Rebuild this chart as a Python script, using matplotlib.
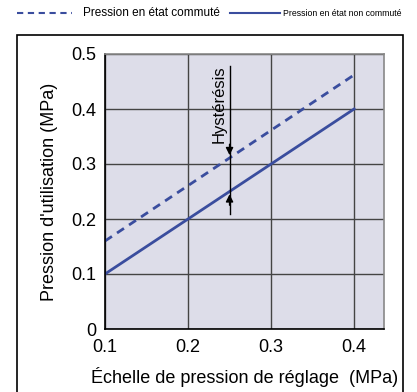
import numpy as np
import matplotlib.pyplot as plt
from matplotlib.patches import Rectangle

plt.rcParams['font.family'] = ['Liberation Sans', 'DejaVu Sans']

# setting pressure (MPa)
x_setting = [0.1, 0.4]
# output pressure, switched / not switched state
y_switched = [0.16, 0.462]
y_unswitched = [0.1, 0.4]
x_ticks = [0.1, 0.2, 0.3, 0.4]
y_ticks = [0, 0.1, 0.2, 0.3, 0.4, 0.5]
y_tick_labels = ['0', '0.1', '0.2', '0.3', '0.4', '0.5']
hyst_x = 0.25

line_col = '#3a4d9e'

fig = plt.figure(figsize=(4.17, 3.92), dpi=100)
ax = fig.add_axes([105 / 417, 1 - 329 / 392, 279 / 417, 275 / 392])
ax.set_facecolor('#dddde9')

ax.plot(x_setting, y_switched, color=line_col, lw=2, ls=(0, (3, 2.2)))
ax.plot(x_setting, y_unswitched, color=line_col, lw=2)

ax.set_xlim(0.1, 0.436)
ax.set_ylim(0, 0.5)
ax.set_xticks(x_ticks)
ax.set_xticklabels([str(v) for v in x_ticks])
ax.set_yticks(y_ticks)
ax.set_yticklabels(y_tick_labels)
ax.tick_params(length=0, labelsize=13)
ax.tick_params(axis='x', pad=7)
ax.tick_params(axis='y', pad=6)
ax.grid(True, color='#444444', lw=1)
ax.set_axisbelow(True)
for s in ['left', 'bottom']:
    ax.spines[s].set_color('black')
    ax.spines[s].set_linewidth(1.2)
for s in ['top', 'right']:
    ax.spines[s].set_color('#888888')
    ax.spines[s].set_linewidth(1.2)

ax.set_xlabel("Échelle de pression de réglage  (MPa)", fontsize=13, labelpad=8)
ax.set_ylabel("Pression d'utilisation (MPa)", fontsize=13, labelpad=10)

# hysteresis marker
y_hi = np.interp(hyst_x, x_setting, y_switched)
y_lo = np.interp(hyst_x, x_setting, y_unswitched)
ax.plot([hyst_x, hyst_x], [y_lo - 0.04, 0.478], color='black', lw=1)
ax.annotate('', xy=(hyst_x, y_hi), xytext=(hyst_x, y_hi + 0.03),
            arrowprops=dict(arrowstyle='-|>', color='black', lw=1, mutation_scale=11))
ax.annotate('', xy=(hyst_x, y_lo), xytext=(hyst_x, y_lo - 0.03),
            arrowprops=dict(arrowstyle='-|>', color='black', lw=1, mutation_scale=11))
ax.text(hyst_x - 0.003, 0.48, 'Hystérésis', rotation=90, ha='right', va='top', fontsize=12)

# outer frame
fig.patches.append(Rectangle((17 / 417, -0.05), 386 / 417, 1.05 - 35 / 392,
                             transform=fig.transFigure, fill=False,
                             edgecolor='black', lw=1.2, clip_on=False))

# legend along the top
fig.add_artist(plt.Line2D([17 / 417, 72 / 417], [1 - 13 / 392] * 2,
                          transform=fig.transFigure, color=line_col, lw=1.5, ls=(0, (3, 2.2))))
fig.text(83 / 417, 1 - 13 / 392, 'Pression en état commuté', fontsize=8.5, va='center', ha='left')
fig.add_artist(plt.Line2D([230 / 417, 280 / 417], [1 - 13 / 392] * 2,
                          transform=fig.transFigure, color=line_col, lw=1.5))
fig.text(283 / 417, 1 - 13 / 392, 'Pression en état non commuté', fontsize=6.3, va='center', ha='left')

fig.savefig('out.png', dpi=100)
